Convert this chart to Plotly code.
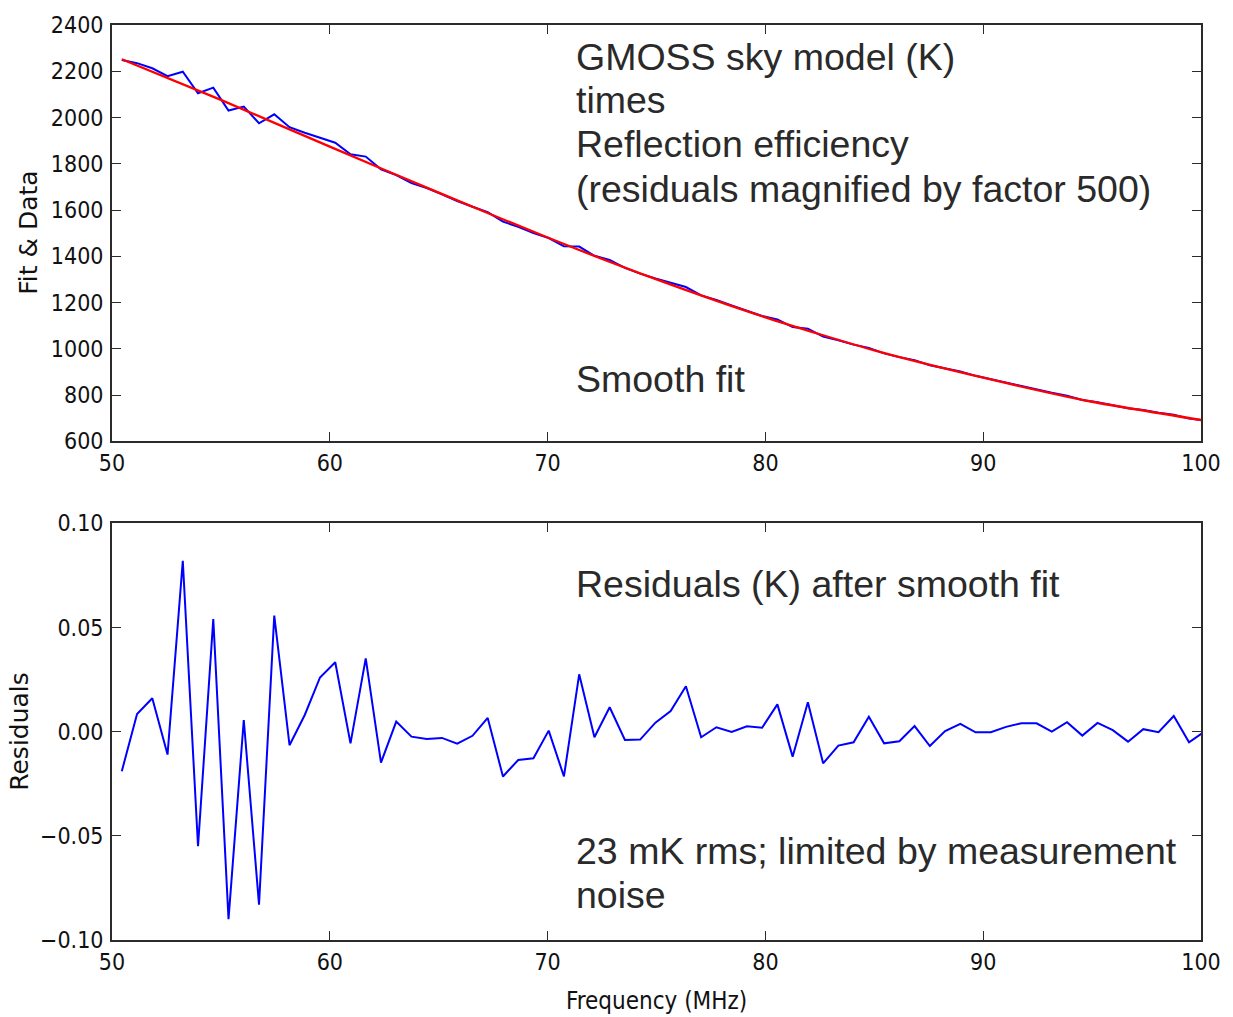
import plotly.graph_objects as go

# ---------------- data ----------------
freq_mhz = [
    50.45, 51.15, 51.85, 52.55, 53.25, 53.95, 54.65, 55.35, 56.05, 56.75,
    57.45, 58.15, 58.85, 59.55, 60.25, 60.95, 61.65, 62.35, 63.05, 63.75,
    64.45, 65.15, 65.85, 66.55, 67.25, 67.95, 68.65, 69.35, 70.05, 70.75,
    71.45, 72.15, 72.85, 73.55, 74.25, 74.95, 75.65, 76.35, 77.05, 77.75,
    78.45, 79.15, 79.85, 80.55, 81.25, 81.95, 82.65, 83.35, 84.05, 84.75,
    85.45, 86.15, 86.85, 87.55, 88.25, 88.95, 89.65, 90.35, 91.05, 91.75,
    92.45, 93.15, 93.85, 94.55, 95.25, 95.95, 96.65, 97.35, 98.05, 98.75,
    99.45, 100.15,
]

# blue: data (sky model x reflection efficiency, residuals magnified x500), K
data_k = [
    2249, 2235, 2213, 2179, 2198, 2105, 2129, 2030, 2047, 1975,
    2014, 1958, 1934, 1914, 1891, 1841, 1831, 1776, 1751, 1716,
    1695, 1668, 1639, 1614, 1591, 1550, 1527, 1500, 1479, 1443,
    1442, 1402, 1384, 1350, 1325, 1304, 1284, 1267, 1231, 1211,
    1187, 1165, 1142, 1127, 1094, 1087, 1053, 1037, 1018, 1004,
    980, 964, 951, 929, 916, 902, 883, 868, 854, 841,
    826, 810, 797, 779, 769, 756, 743, 735, 723, 715,
    698, 690,
]

# red: smooth fit, K
fit_freq_mhz = [50.45, 55, 60, 65, 70, 75, 80, 85, 90, 95, 100.15]
fit_k = [2252, 2076, 1874, 1675, 1481, 1300, 1136, 993, 875, 771, 690]

# residuals after smooth fit, K
residual_k = [
    -0.019, 0.0085, 0.016, -0.011, 0.082, -0.055, 0.054, -0.090, 0.0056, -0.083,
    0.0557, -0.0065, 0.008, 0.026, 0.0333, -0.0056, 0.0352, -0.0149, 0.0048, -0.0024,
    -0.0035, -0.003, -0.0058, -0.002, 0.0066, -0.0215, -0.0136, -0.0128, 0.0005, -0.0215,
    0.0275, -0.0027, 0.0117, -0.004, -0.0038, 0.0043, 0.0099, 0.0218, -0.0027, 0.0021,
    -0.0001, 0.0026, 0.0019, 0.0131, -0.012, 0.0141, -0.0152, -0.0067, -0.0051, 0.0072,
    -0.0056, -0.0046, 0.0027, -0.0069, 0.0003, 0.0037, -0.0003, -0.0003, 0.0023, 0.004,
    0.004, 0.0, 0.0045, -0.0019, 0.0042, 0.0007, -0.0048, 0.0012, -0.0003, 0.0075,
    -0.0051, 0.0,
]

x_ticks = [50, 60, 70, 80, 90, 100]
top_y_ticks = [600, 800, 1000, 1200, 1400, 1600, 1800, 2000, 2200, 2400]
bottom_y_ticks = [-0.10, -0.05, 0.00, 0.05, 0.10]

top_text = ["GMOSS sky model (K)", "times", "Reflection efficiency",
            "(residuals magnified by factor 500)", "Smooth fit"]
bottom_text = ["Residuals (K) after smooth fit",
               "23 mK rms; limited by measurement", "noise"]

# ---------------- figure ----------------
W, H = 1233, 1017
ML, MR, MT, MB = 112, 23, 25, 77
PH = H - MT - MB
PW = W - ML - MR

def py(pix):
    return (H - MB - pix) / PH

def px(pix):
    return (pix - ML) / PW

fig = go.Figure()
fig.add_trace(go.Scatter(x=freq_mhz, y=data_k, mode="lines",
                         line=dict(color="#0000ff", width=2),
                         xaxis="x", yaxis="y", showlegend=False))
fig.add_trace(go.Scatter(x=fit_freq_mhz, y=fit_k, mode="lines",
                         line=dict(color="#ff0000", width=2.3, shape="spline", smoothing=0.6),
                         xaxis="x", yaxis="y", showlegend=False))
fig.add_trace(go.Scatter(x=freq_mhz, y=residual_k, mode="lines",
                         line=dict(color="#0000ff", width=2),
                         xaxis="x2", yaxis="y2", showlegend=False))

tick_font = dict(family="DejaVu Sans Condensed, DejaVu Sans", size=23, color="#111111")
axis_common = dict(showline=True, linecolor="#2b2b2b", linewidth=1.8, mirror="allticks",
                   ticks="inside", ticklen=9, tickwidth=1.3, tickcolor="#2b2b2b",
                   showgrid=False, zeroline=False, tickfont=tick_font)

top_bottom_edge = py(441.3)
bot_top_edge = py(523.3)

fig.update_layout(
    width=W, height=H,
    margin=dict(l=ML, r=MR, t=MT, b=MB),
    paper_bgcolor="white", plot_bgcolor="white",
    xaxis=dict(domain=[0, 1], anchor="y", range=[50, 100], tickvals=x_ticks,
               ticklabelstandoff=0, **axis_common),
    yaxis=dict(domain=[top_bottom_edge, 1], anchor="x", range=[600, 2400],
               tickvals=top_y_ticks, ticklabelstandoff=2, **axis_common),
    xaxis2=dict(domain=[0, 1], anchor="y2", range=[50, 100], tickvals=x_ticks,
                ticklabelstandoff=0, **axis_common),
    yaxis2=dict(domain=[0, bot_top_edge], anchor="x2", range=[-0.10, 0.10],
                tickvals=bottom_y_ticks, tickformat=".2f", ticklabelstandoff=2,
                **axis_common),
)

ann_font = dict(family="Liberation Sans, Arial, sans-serif", size=37.5, color="#2a2a2a")
label_font = dict(family="DejaVu Sans", size=25, color="#111111")

annotations = []
for txt, ypix in zip(top_text, [57, 100, 144, 189, 379]):
    annotations.append(dict(text=txt, xref="paper", yref="paper", x=px(578), y=py(ypix),
                            xanchor="left", yanchor="middle", showarrow=False, font=ann_font))
for txt, ypix in zip(bottom_text, [584, 851, 895]):
    annotations.append(dict(text=txt, xref="paper", yref="paper", x=px(578), y=py(ypix),
                            xanchor="left", yanchor="middle", showarrow=False, font=ann_font))

annotations.append(dict(text="Fit &amp; Data", xref="paper", yref="paper", x=px(27), y=py(233),
                        xanchor="center", yanchor="middle", textangle=-90, showarrow=False,
                        font=label_font))
annotations.append(dict(text="Residuals", xref="paper", yref="paper", x=px(18), y=py(731),
                        xanchor="center", yanchor="middle", textangle=-90, showarrow=False,
                        font=label_font))
annotations.append(dict(text="Frequency (MHz)", xref="paper", yref="paper", x=px(661), y=py(1001),
                        xanchor="center", yanchor="middle", showarrow=False,
                        font=dict(family="DejaVu Sans Condensed, DejaVu Sans", size=24,
                                  color="#111111")))
fig.update_layout(annotations=annotations)

fig.write_html("out.html")
